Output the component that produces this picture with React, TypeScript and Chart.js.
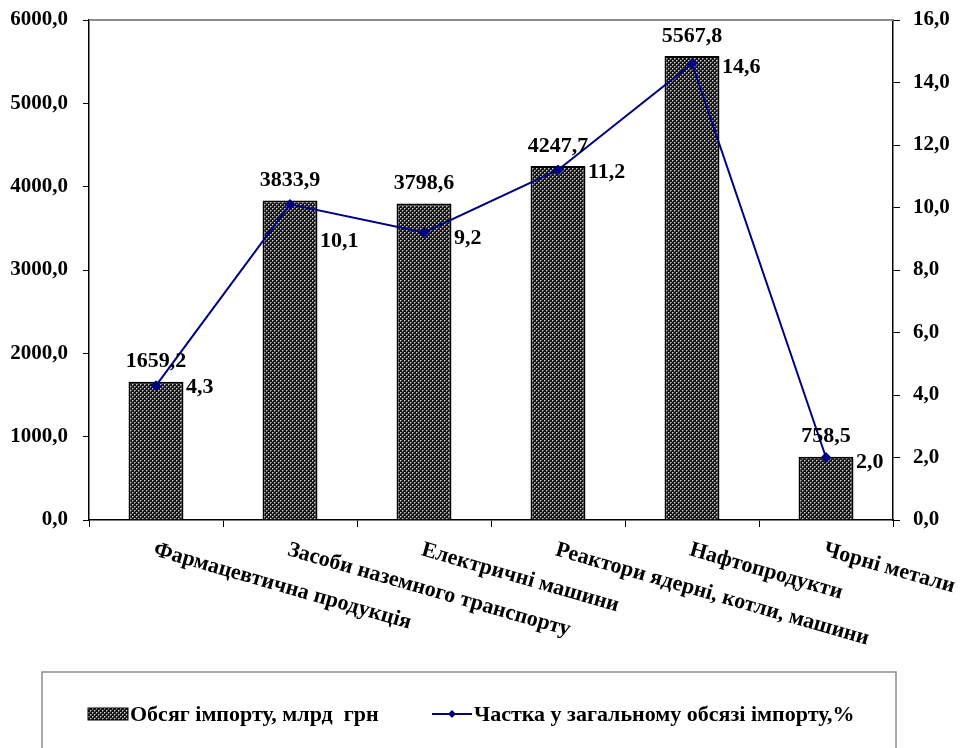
import React, { useEffect, useRef } from "react";
import { Chart, registerables } from "chart.js";

Chart.register(...registerables);

const categories = [
  "Фармацевтична продукція",
  "Засоби наземного транспорту",
  "Електричні машини",
  "Реактори ядерні, котли, машини",
  "Нафтопродукти",
  "Чорні метали",
];
const importVolume = [1659.2, 3833.9, 3798.6, 4247.7, 5567.8, 758.5];
const importShare = [4.3, 10.1, 9.2, 11.2, 14.6, 2.0];
const barSeriesName = "Обсяг імпорту, млрд  грн";
const lineSeriesName = "Частка у загальному обсязі імпорту,%";

// style: vertical nudge of share labels (px)
const shareLabelNudgeY = [0, 35, 4, 0, 2, 3];

const FONT = "'Liberation Serif', 'Times New Roman', serif";
const NAVY = "#000080";

const fmt = (v: number) => v.toFixed(1).replace(".", ",");

function makePattern(): CanvasPattern | string {
  const c = document.createElement("canvas");
  c.width = 4;
  c.height = 4;
  const g = c.getContext("2d");
  if (!g) return "#555";
  g.fillStyle = "#141414";
  g.fillRect(0, 0, 4, 4);
  g.fillStyle = "#d0d0d0";
  g.fillRect(0, 0, 1, 1);
  g.fillRect(2, 2, 1, 1);
  g.fillStyle = "#707070";
  g.fillRect(1, 0, 1, 1);
  g.fillRect(0, 1, 1, 1);
  g.fillRect(3, 2, 1, 1);
  g.fillRect(2, 3, 1, 1);
  const p = g.createPattern(c, "repeat");
  return p || "#555";
}

export default function App() {
  const ref = useRef<HTMLCanvasElement | null>(null);

  useEffect(() => {
    if (!ref.current) return;
    const pattern = makePattern();

    const overlay = {
      id: "overlay",
      afterDatasetsDraw(chart: any) {
        const ctx = chart.ctx;
        const area = chart.chartArea;
        ctx.save();
        // top border of plot area
        ctx.strokeStyle = "#8c8c8c";
        ctx.lineWidth = 2;
        ctx.beginPath();
        ctx.moveTo(area.left, area.top);
        ctx.lineTo(area.right, area.top);
        ctx.stroke();

        ctx.fillStyle = "#000";
        ctx.font = `bold 22px ${FONT}`;
        // bar value labels
        const barMeta = chart.getDatasetMeta(0);
        ctx.textAlign = "center";
        ctx.textBaseline = "middle";
        barMeta.data.forEach((el: any, i: number) => {
          ctx.fillText(fmt(importVolume[i]), el.x, el.y - 20);
        });
        // line value labels
        const lineMeta = chart.getDatasetMeta(1);
        ctx.textAlign = "left";
        lineMeta.data.forEach((el: any, i: number) => {
          ctx.fillText(fmt(importShare[i]), el.x + 30, el.y + 2 + shareLabelNudgeY[i]);
        });

        // rotated category labels
        const xs = chart.scales.x;
        ctx.font = `bold 22px ${FONT}`;
        ctx.textBaseline = "top";
        ctx.textAlign = "left";
        categories.forEach((c, i) => {
          const x = xs.getPixelForValue(i);
          ctx.save();
          ctx.translate(x + 1, area.bottom + 19);
          ctx.rotate((16 * Math.PI) / 180);
          ctx.fillText(c, 0, 0);
          ctx.restore();
        });

        // legend
        ctx.strokeStyle = "#8c8c8c";
        ctx.lineWidth = 1.5;
        ctx.strokeRect(42, 672, 854, 100);
        ctx.fillStyle = pattern as any;
        ctx.fillRect(88, 708, 40, 12);
        ctx.strokeStyle = "#000";
        ctx.lineWidth = 1;
        ctx.strokeRect(88, 708, 40, 12);
        ctx.fillStyle = "#000";
        ctx.font = `bold 22px ${FONT}`;
        ctx.textBaseline = "middle";
        ctx.fillText(barSeriesName, 130, 715);
        ctx.strokeStyle = NAVY;
        ctx.lineWidth = 2;
        ctx.beginPath();
        ctx.moveTo(432, 714);
        ctx.lineTo(472, 714);
        ctx.stroke();
        ctx.fillStyle = NAVY;
        ctx.beginPath();
        ctx.moveTo(452, 710);
        ctx.lineTo(456, 714);
        ctx.lineTo(452, 718);
        ctx.lineTo(448, 714);
        ctx.closePath();
        ctx.fill();
        ctx.fillStyle = "#000";
        ctx.fillText(lineSeriesName, 474, 715);
        ctx.restore();
      },
    };

    const fitY = (w: number) => (s: any) => {
      s.width = w;
      s.paddingTop = 0;
      s.paddingBottom = 0;
    };

    const chart = new Chart(ref.current, {
      type: "bar",
      data: {
        labels: categories,
        datasets: [
          {
            type: "bar",
            label: barSeriesName,
            data: importVolume,
            yAxisID: "y",
            backgroundColor: pattern as any,
            borderColor: "#000",
            borderWidth: 2,
            barPercentage: 0.41,
            categoryPercentage: 1,
            order: 2,
          },
          {
            type: "line",
            label: lineSeriesName,
            data: importShare,
            yAxisID: "y1",
            borderColor: NAVY,
            backgroundColor: NAVY,
            borderWidth: 2,
            pointStyle: "rectRot",
            pointRadius: 4,
            pointBackgroundColor: NAVY,
            pointBorderColor: NAVY,
            tension: 0,
            order: 1,
          } as any,
        ],
      },
      options: {
        animation: false,
        responsive: true,
        maintainAspectRatio: false,
        layout: { padding: { left: 0, right: 0, top: 20, bottom: 220 } },
        plugins: {
          legend: { display: false },
          tooltip: { enabled: false },
        },
        scales: {
          x: {
            offset: true,
            grid: {
              offset: true,
              drawOnChartArea: false,
              drawTicks: true,
              tickLength: 7,
              color: "#000",
              lineWidth: 1,
            },
            border: { color: "#000", width: 1.5 },
            ticks: { display: false },
            afterFit: (s: any) => {
              s.height = 8;
              s.paddingLeft = 0;
              s.paddingRight = 0;
            },
          },
          y: {
            position: "left",
            min: 0,
            max: 6000,
            ticks: {
              stepSize: 1000,
              padding: 15,
              color: "#000",
              font: { family: FONT, size: 21, weight: "bold" },
              callback: (v: any) => fmt(Number(v)),
            },
            grid: { drawOnChartArea: false, tickLength: 6, color: "#000" },
            border: { color: "#000", width: 1.5 },
            afterFit: fitY(89),
          },
          y1: {
            position: "right",
            min: 0,
            max: 16,
            ticks: {
              stepSize: 2,
              padding: 13,
              color: "#000",
              font: { family: FONT, size: 21, weight: "bold" },
              callback: (v: any) => fmt(Number(v)),
            },
            grid: { drawOnChartArea: false, tickLength: 7, color: "#000" },
            border: { color: "#000", width: 1.5 },
            afterFit: fitY(70),
          },
        },
      } as any,
      plugins: [overlay],
    });
    return () => chart.destroy();
  }, []);

  return (
    <div style={{ position: "absolute", left: 0, top: 0, width: 963, height: 748, background: "#fff" }}>
      <canvas ref={ref} />
    </div>
  );
}
